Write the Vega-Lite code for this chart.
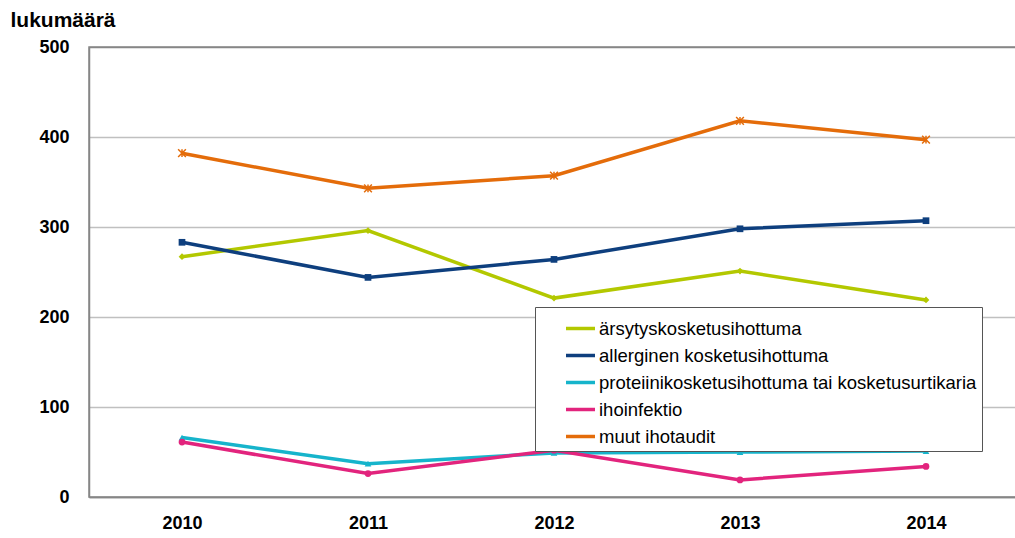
{
  "$schema": "https://vega.github.io/schema/vega-lite/v6.json",
  "autosize": {"type": "none"},
  "padding": {"left": 89, "top": 47, "right": 0, "bottom": 41},
  "width": 930,
  "height": 450,
  "background": "white",
  "config": {
    "font": "Liberation Sans",
    "view": {"stroke": "#868686", "strokeWidth": 1.5}
  },
  "data": {
    "values": [
      {"year": "2010", "series": "ärsytyskosketusihottuma", "value": 267},
      {"year": "2011", "series": "ärsytyskosketusihottuma", "value": 296},
      {"year": "2012", "series": "ärsytyskosketusihottuma", "value": 221},
      {"year": "2013", "series": "ärsytyskosketusihottuma", "value": 251},
      {"year": "2014", "series": "ärsytyskosketusihottuma", "value": 219},
      {"year": "2010", "series": "allerginen kosketusihottuma", "value": 283},
      {"year": "2011", "series": "allerginen kosketusihottuma", "value": 244},
      {"year": "2012", "series": "allerginen kosketusihottuma", "value": 264},
      {"year": "2013", "series": "allerginen kosketusihottuma", "value": 298},
      {"year": "2014", "series": "allerginen kosketusihottuma", "value": 307},
      {"year": "2010", "series": "proteiinikosketusihottuma tai kosketusurtikaria", "value": 66},
      {"year": "2011", "series": "proteiinikosketusihottuma tai kosketusurtikaria", "value": 37},
      {"year": "2012", "series": "proteiinikosketusihottuma tai kosketusurtikaria", "value": 49},
      {"year": "2013", "series": "proteiinikosketusihottuma tai kosketusurtikaria", "value": 50},
      {"year": "2014", "series": "proteiinikosketusihottuma tai kosketusurtikaria", "value": 51},
      {"year": "2010", "series": "ihoinfektio", "value": 61},
      {"year": "2011", "series": "ihoinfektio", "value": 26},
      {"year": "2012", "series": "ihoinfektio", "value": 52},
      {"year": "2013", "series": "ihoinfektio", "value": 19},
      {"year": "2014", "series": "ihoinfektio", "value": 34},
      {"year": "2010", "series": "muut ihotaudit", "value": 382},
      {"year": "2011", "series": "muut ihotaudit", "value": 343},
      {"year": "2012", "series": "muut ihotaudit", "value": 357},
      {"year": "2013", "series": "muut ihotaudit", "value": 418},
      {"year": "2014", "series": "muut ihotaudit", "value": 397}
    ]
  },
  "encoding": {
    "x": {
      "field": "year", "type": "ordinal",
      "scale": {"type": "point", "padding": 0.5},
      "axis": {
        "title": null, "labelAngle": 0, "ticks": false,
        "domainColor": "#868686", "domainWidth": 1.5,
        "labelFontSize": 18, "labelFontWeight": "bold", "labelColor": "#000000",
        "labelPadding": 17
      }
    },
    "y": {
      "field": "value", "type": "quantitative",
      "scale": {"domain": [0, 500], "nice": false},
      "axis": {
        "title": "lukumäärä", "titleAngle": 0, "titleAlign": "left", "titleBaseline": "middle",
        "titleX": -79, "titleY": -27, "titleFontSize": 21, "titleFontWeight": "bold", "titleColor": "#000000",
        "values": [0, 100, 200, 300, 400, 500],
        "ticks": false, "domainColor": "#868686", "domainWidth": 1.5,
        "grid": true, "gridWidth": 1.5,
        "gridColor": {"condition": {"test": "datum.value === 500 || datum.value === 0", "value": "#868686"}, "value": "#C0C0C0"},
        "labelFontSize": 18, "labelFontWeight": "bold", "labelColor": "#000000", "labelPadding": 20
      }
    },
    "color": {
      "field": "series", "type": "nominal",
      "scale": {
        "domain": ["ärsytyskosketusihottuma", "allerginen kosketusihottuma", "proteiinikosketusihottuma tai kosketusurtikaria", "ihoinfektio", "muut ihotaudit"],
        "range": ["#B3C800", "#0E3F7E", "#16B4CB", "#E2247D", "#E46C0A"]
      }
    }
  },
  "layer": [
    {
      "mark": {"type": "line", "strokeWidth": 3.5},
      "encoding": {
        "color": {
          "field": "series", "type": "nominal",
          "legend": {
            "title": null, "orient": "none", "legendX": 446, "legendY": 260,
            "symbolType": "stroke", "symbolSize": 841, "symbolStrokeWidth": 3.5,
            "labelFontSize": 18.5, "labelColor": "#000000", "labelOffset": 2, "labelLimit": 0,
            "padding": 5, "symbolOffset": 24, "rowPadding": 1,
            "strokeColor": "#555555", "fillColor": "white"
          }
        }
      }
    },
    {
      "transform": [{"filter": "datum.series !== 'muut ihotaudit'"}],
      "mark": {"type": "point", "filled": true, "opacity": 1, "size": 45},
      "encoding": {
        "shape": {
          "field": "series", "type": "nominal", "legend": null,
          "scale": {
            "domain": ["ärsytyskosketusihottuma", "allerginen kosketusihottuma", "proteiinikosketusihottuma tai kosketusurtikaria", "ihoinfektio"],
            "range": ["diamond", "square", "triangle-up", "circle"]
          }
        }
      }
    },
    {
      "transform": [{"filter": "datum.series === 'muut ihotaudit'"}],
      "mark": {"type": "point", "filled": false, "opacity": 1, "size": 60, "strokeWidth": 1.5,
        "shape": "M-1,-1L1,1M-1,1L1,-1M0,-1L0,1"}
    }
  ]
}
